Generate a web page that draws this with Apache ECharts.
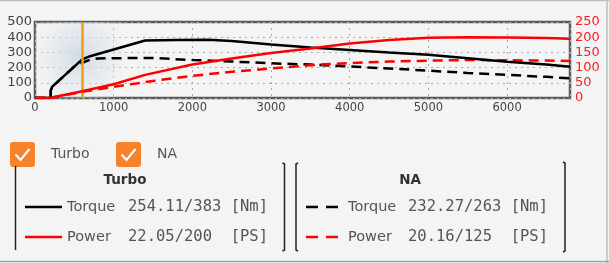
<!DOCTYPE html>
<html>
<head>
<meta charset="utf-8">
<script src="https://cdn.jsdelivr.net/npm/echarts@6/dist/echarts.min.js"></script>
<style>
html,body{margin:0;padding:0;background:#f4f4f4;}
#c{width:609px;height:263px;}
</style>
</head>
<body>
<div id="c"></div>
<script>
// ---- data ----
const xTicks = [0, 1000, 2000, 3000, 4000, 5000, 6000];
const leftTicks = [0, 100, 200, 300, 400, 500];
const rightTicks = [0, 50, 100, 150, 200, 250];
const cursorRpm = 600;

const turboTorqueRpm = [0, 200, 200, 220, 600, 700, 1400, 1800, 2200, 2500, 3000, 3500, 4000, 4500, 5000, 5500, 6000, 6500, 6800];
const turboTorque    = [0, 0, 50, 75, 254, 275, 378, 382, 383, 375, 352, 332, 316, 300, 285, 262, 238, 220, 205];

const turboPowerRpm = [0, 200, 600, 1000, 1400, 2000, 2500, 3000, 3500, 4000, 4500, 5000, 5500, 6000, 6500, 6800];
const turboPower    = [0, 1, 22, 45, 76, 110, 130, 148, 163, 179, 191, 198, 200, 199, 197, 195];

const naTorqueRpm = [0, 200, 200, 220, 500, 600, 700, 800, 1000, 1500, 2000, 2500, 3000, 3500, 4000, 4500, 5000, 5500, 6000, 6500, 6800];
const naTorque    = [0, 0, 50, 75, 207, 232, 252, 260, 262, 263, 250, 240, 228, 220, 207, 194, 180, 165, 152, 139, 129];

const naPowerRpm = [0, 200, 600, 1000, 1500, 2000, 2500, 3000, 3500, 4000, 4500, 5000, 5500, 6000, 6500, 6800];
const naPower    = [0, 1, 20, 37, 56, 73, 86, 97, 108, 115, 120, 123, 125, 124, 123, 122];

const legendGroups = ['Turbo', 'NA'];
const turboReadout = { torque: '254.11/383 [Nm]', power: '22.05/200  [PS]' };
const naReadout    = { torque: '232.27/263 [Nm]', power: '20.16/125  [PS]' };

function pairs(xs, ys) { return xs.map((x, i) => [x, ys[i]]); }

const chart = echarts.init(document.getElementById('c'), null, { renderer: 'canvas' });

const sansFont = 'DejaVu Sans';

const option = {
  animation: false,
  backgroundColor: '#f4f4f4',
  grid: { left: 35, right: 39, top: 22, bottom: 165, show: true, borderColor: '#5a5a5a', borderWidth: 2.5, backgroundColor: 'transparent' },
  xAxis: {
    type: 'value', min: 0, max: 6800, interval: 1000,
    axisLine: { show: false }, axisTick: { show: false },
    axisLabel: { margin: 4, color: '#444', fontFamily: sansFont, fontSize: 11.5,
      formatter: v => (xTicks.indexOf(v) >= 0 ? String(v) : '') },
    splitLine: { show: true, lineStyle: { color: '#a8a8a8', type: [2, 4], width: 1 } }
  },
  yAxis: [
    { type: 'value', min: 0, max: 500, interval: 100,
      axisLine: { show: false }, axisTick: { show: false },
      axisLabel: { margin: 3, color: '#444', fontFamily: sansFont, fontSize: 13,
        formatter: v => (leftTicks.indexOf(v) >= 0 ? String(v) : '') },
      splitLine: { show: true, lineStyle: { color: '#a8a8a8', type: [2, 4], width: 1 } } },
    { type: 'value', min: 0, max: 250, interval: 50, position: 'right',
      axisLine: { show: false }, axisTick: { show: false },
      axisLabel: { margin: 5, color: '#ff1a1a', fontFamily: sansFont, fontSize: 13,
        formatter: v => (rightTicks.indexOf(v) >= 0 ? String(v) : '') },
      splitLine: { show: false } }
  ],
  series: [
    { name: 'NA Torque', type: 'line', yAxisIndex: 0, data: pairs(naTorqueRpm, naTorque),
      showSymbol: false, lineStyle: { color: '#000', width: 2.5, type: [10, 6] }, z: 3,
      markArea: { silent: true, itemStyle: {
          color: new echarts.graphic.RadialGradient(0.5, 0.45, 0.75, [
            { offset: 0, color: 'rgba(205,216,228,0.9)' },
            { offset: 0.5, color: 'rgba(220,228,236,0.55)' },
            { offset: 1, color: 'rgba(244,244,244,0)' }])
        },
        data: [[{ xAxis: 0 }, { xAxis: 1150 }]] } },
    { name: 'NA Power', type: 'line', yAxisIndex: 1, data: pairs(naPowerRpm, naPower),
      showSymbol: false, lineStyle: { color: '#ff0000', width: 2.5, type: [10, 6] }, z: 3 },
    { name: 'Turbo Torque', type: 'line', yAxisIndex: 0, data: pairs(turboTorqueRpm, turboTorque),
      showSymbol: false, lineStyle: { color: '#000', width: 2.5 }, z: 4 },
    { name: 'Turbo Power', type: 'line', yAxisIndex: 1, data: pairs(turboPowerRpm, turboPower),
      showSymbol: false, lineStyle: { color: '#ff0000', width: 2.5 }, z: 5,
      markLine: { silent: true, symbol: 'none', label: { show: false },
        lineStyle: { color: '#f59d0e', width: 2.5, type: 'solid', opacity: 1 },
        emphasis: { disabled: true },
        data: [{ xAxis: cursorRpm }] } }
  ],
  graphic: [
    // frame lines of the page
    { type: 'line', shape: { x1: 0, y1: 0.5, x2: 609, y2: 0.5 }, style: { stroke: '#b3bec6', lineWidth: 1.5 }, silent: true },
    { type: 'line', shape: { x1: 607, y1: 0, x2: 607, y2: 263 }, style: { stroke: '#b8c0c6', lineWidth: 1.5 }, silent: true },
    { type: 'line', shape: { x1: 0, y1: 261.5, x2: 609, y2: 261.5 }, style: { stroke: '#9ea3a6', lineWidth: 1.5 }, silent: true },

    // checkboxes
    { type: 'rect', shape: { x: 10, y: 142, width: 25, height: 25, r: 3 }, style: { fill: '#f7822a' } },
    { type: 'polyline', shape: { points: [[15.5, 154.5], [20.5, 160], [29.5, 149]] }, style: { stroke: '#fff', lineWidth: 2, fill: null } },
    { type: 'text', style: { x: 51, y: 154.5, text: legendGroups[0], font: '14px "DejaVu Sans"', fill: '#555', verticalAlign: 'middle' } },
    { type: 'rect', shape: { x: 116, y: 142, width: 25, height: 25, r: 3 }, style: { fill: '#f7822a' } },
    { type: 'polyline', shape: { points: [[121.5, 154.5], [126.5, 160], [135.5, 149]] }, style: { stroke: '#fff', lineWidth: 2, fill: null } },
    { type: 'text', style: { x: 157, y: 154.5, text: legendGroups[1], font: '14px "DejaVu Sans"', fill: '#555', verticalAlign: 'middle' } },

    // bracket lines
    { type: 'line', shape: { x1: 15.5, y1: 166, x2: 15.5, y2: 250 }, style: { stroke: '#222', lineWidth: 1.5 } },
    { type: 'polyline', shape: { points: [[282.5, 163], [284.5, 164], [284.5, 250], [282.5, 251]] }, style: { stroke: '#222', lineWidth: 1.5, fill: null } },
    { type: 'polyline', shape: { points: [[298, 163], [296, 164], [296, 250], [298, 251]] }, style: { stroke: '#222', lineWidth: 1.5, fill: null } },
    { type: 'polyline', shape: { points: [[563, 162], [565, 163], [565, 251], [563, 252]] }, style: { stroke: '#222', lineWidth: 1.5, fill: null } },

    // Turbo box
    { type: 'text', style: { x: 125, y: 180, text: legendGroups[0], font: 'bold 13.5px "DejaVu Sans"', fill: '#333', align: 'center', verticalAlign: 'middle' } },
    { type: 'line', shape: { x1: 25, y1: 207, x2: 62, y2: 207 }, style: { stroke: '#000', lineWidth: 2.5 } },
    { type: 'text', style: { x: 67, y: 207, text: 'Torque', font: '14.5px "DejaVu Sans"', fill: '#555', verticalAlign: 'middle' } },
    { type: 'text', style: { x: 128, y: 207, text: turboReadout.torque, font: '15.5px "DejaVu Sans Mono"', fill: '#555', verticalAlign: 'middle' } },
    { type: 'line', shape: { x1: 25, y1: 237, x2: 62, y2: 237 }, style: { stroke: '#ff0000', lineWidth: 2.5 } },
    { type: 'text', style: { x: 67, y: 237, text: 'Power', font: '14.5px "DejaVu Sans"', fill: '#555', verticalAlign: 'middle' } },
    { type: 'text', style: { x: 128, y: 237, text: turboReadout.power, font: '15.5px "DejaVu Sans Mono"', fill: '#555', verticalAlign: 'middle' } },

    // NA box
    { type: 'text', style: { x: 410, y: 180, text: legendGroups[1], font: 'bold 13.5px "DejaVu Sans"', fill: '#333', align: 'center', verticalAlign: 'middle' } },
    { type: 'line', shape: { x1: 306, y1: 207, x2: 342, y2: 207 }, style: { stroke: '#000', lineWidth: 2.5, lineDash: [12, 8] } },
    { type: 'text', style: { x: 348, y: 207, text: 'Torque', font: '14.5px "DejaVu Sans"', fill: '#555', verticalAlign: 'middle' } },
    { type: 'text', style: { x: 408, y: 207, text: naReadout.torque, font: '15.5px "DejaVu Sans Mono"', fill: '#555', verticalAlign: 'middle' } },
    { type: 'line', shape: { x1: 306, y1: 237, x2: 342, y2: 237 }, style: { stroke: '#ff0000', lineWidth: 2.5, lineDash: [12, 8] } },
    { type: 'text', style: { x: 348, y: 237, text: 'Power', font: '14.5px "DejaVu Sans"', fill: '#555', verticalAlign: 'middle' } },
    { type: 'text', style: { x: 408, y: 237, text: naReadout.power, font: '15.5px "DejaVu Sans Mono"', fill: '#555', verticalAlign: 'middle' } }
  ]
};
chart.setOption(option);
</script>
</body>
</html>
